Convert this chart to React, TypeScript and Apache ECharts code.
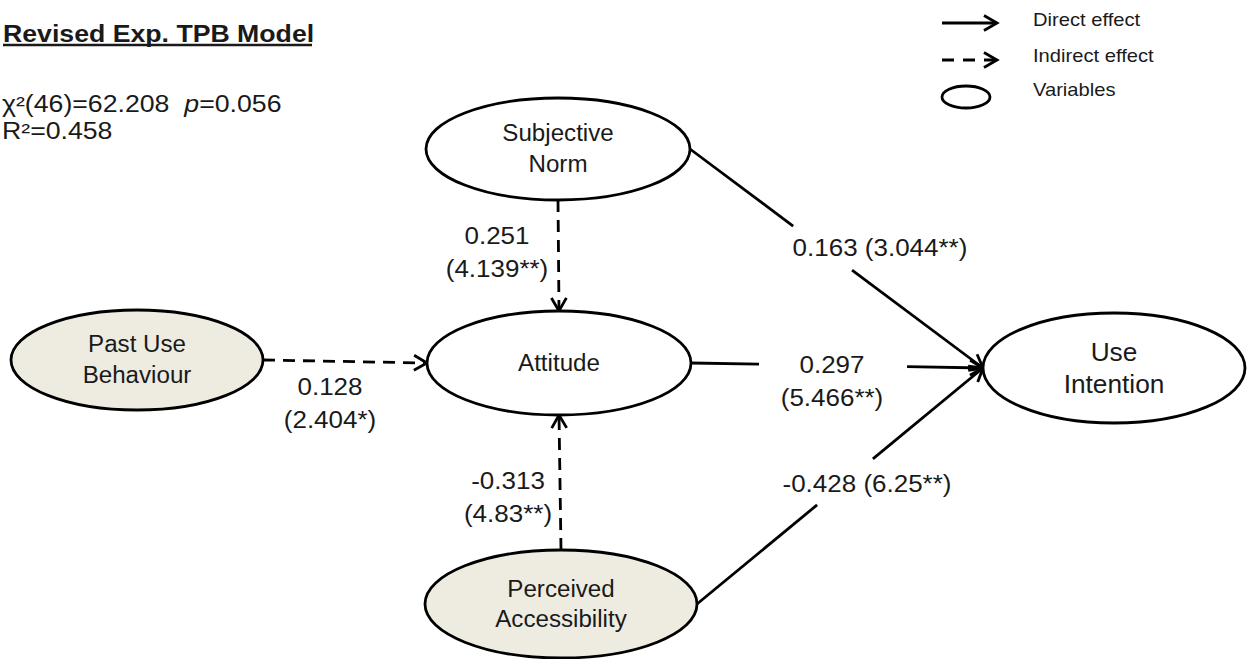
import React, { useEffect, useRef } from "react";
import * as echarts from "echarts";

// ---------- data ----------
const nodeNames = ["Subjective Norm", "Past Use Behaviour", "Attitude", "Perceived Accessibility", "Use Intention"];
const nodeLabels = ["Subjective\nNorm", "Past Use\nBehaviour", "Attitude", "Perceived\nAccessibility", "Use\nIntention"];
const nodeObserved = [false, true, false, true, false];

const edgeSource = [0, 1, 3, 0, 2, 3];
const edgeTarget = [2, 2, 2, 4, 4, 4];
const edgeEstimate = ["0.251", "0.128", "-0.313", "0.163", "0.297", "-0.428"];
const edgeTValue = ["4.139**", "2.404*", "4.83**", "3.044**", "5.466**", "6.25**"];
const edgeKind = ["indirect", "indirect", "indirect", "direct", "direct", "direct"];

const modelTitle = "Revised Exp. TPB Model";
const chiLabel = "χ²(46)";
const chiValue = "62.208";
const pValue = "0.056";
const r2Label = "R²";
const r2Value = "0.458";

const legendLabels = ["Direct effect", "Indirect effect", "Variables"];

// ---------- layout (diagram space, 1 unit = 1 px) ----------
const nodeCenter = [[558, 149], [137, 360], [559, 363], [561, 604], [1114, 368]];
const nodeRadius = [[132, 51], [126, 50], [132, 52], [136, 54], [131, 55]];
const nodeFontSize = [23, 23, 23, 23, 25];
const nodeLineHeight = [31, 31, 31, 30, 32];
const edgeFromSide = ["bottom", "right", "top", "right", "right", "right"];
const edgeToSide = ["top", "left", "bottom", "left", "left", "left"];
const edgeGap: (number[] | null)[] = [null, null, null, [0.352, 0.553], [0.233, 0.74], [0.42, 0.615]];
const edgeLabelPos = [[497, 253], [330, 404], [508, 498], [880, 248], [832, 382], [867, 484]];
const edgeLabelOneLine = [false, false, false, true, false, true];

const FONT = "'Liberation Sans', Arial, Helvetica, sans-serif";
const SX_EDGE = 1.13;
const SX_NODE = 1.05;
const SX_HEAD = 1.16;
const SX_LEG = 1.12;
const INK = "#000";
const TXT = "#1a1a1a";
const FILL_OBS = "#EEECE1";
const LW = 2.8;

function anchor(api: any, n: number, side: string) {
  const c = api.coord(nodeCenter[n]);
  const r = api.size(nodeRadius[n]);
  if (side === "left") return [c[0] - r[0], c[1]];
  if (side === "right") return [c[0] + r[0], c[1]];
  if (side === "top") return [c[0], c[1] - r[1]];
  return [c[0], c[1] + r[1]];
}

function chevron(tip: number[], ux: number, uy: number) {
  const L = 13, W = 7.5;
  const bx = tip[0] - ux * L, by = tip[1] - uy * L;
  return [[bx - uy * W, by + ux * W], [tip[0], tip[1]], [bx + uy * W, by - ux * W]];
}

export default function App() {
  const ref = useRef<HTMLDivElement>(null);
  useEffect(() => {
    if (!ref.current) return;
    const chart = echarts.init(ref.current, null, { renderer: "svg" });

    const lineStyle = (dashed: boolean) => ({
      stroke: INK,
      lineWidth: LW,
      fill: "none",
      lineDash: dashed ? [12, 8] : undefined,
    });

    const option: any = {
      animation: false,
      backgroundColor: "#fff",
      grid: { left: 0, right: 0, top: 0, bottom: 0 },
      xAxis: { type: "value", min: 0, max: 1250, show: false },
      yAxis: { type: "value", min: 0, max: 659, inverse: true, show: false },
      graphic: [
        {
          type: "text",
          x: 3,
          y: 34,
          scaleX: SX_HEAD,
          style: { text: modelTitle, fontSize: 23, fontWeight: "bold", fontFamily: FONT, fill: TXT, align: "left", verticalAlign: "middle" },
        },
        { type: "line", shape: { x1: 3, y1: 45, x2: 312, y2: 45 }, style: { stroke: TXT, lineWidth: 2.5 } },
        {
          type: "text",
          x: 2,
          y: 104,
          scaleX: SX_HEAD,
          style: {
            text: `${chiLabel}=${chiValue}  {i|p}=${pValue}`,
            rich: { i: { fontStyle: "italic", fontSize: 23, fontFamily: FONT, fill: TXT } },
            fontSize: 23,
            fontFamily: FONT,
            fill: TXT,
            align: "left",
            verticalAlign: "middle",
          },
        },
        {
          type: "text",
          x: 2,
          y: 131,
          scaleX: SX_HEAD,
          style: { text: `${r2Label}=${r2Value}`, fontSize: 23, fontFamily: FONT, fill: TXT, align: "left", verticalAlign: "middle" },
        },
        // legend
        { type: "line", shape: { x1: 942, y1: 23, x2: 997, y2: 23 }, style: { stroke: INK, lineWidth: LW } },
        { type: "polyline", shape: { points: chevron([997, 23], 1, 0) }, style: { stroke: INK, lineWidth: LW, fill: "none" } },
        { type: "line", shape: { x1: 942, y1: 60, x2: 996, y2: 60 }, style: { stroke: INK, lineWidth: LW, lineDash: [12, 9] } },
        { type: "polyline", shape: { points: chevron([997, 60], 1, 0) }, style: { stroke: INK, lineWidth: LW, fill: "none" } },
        { type: "ellipse", shape: { cx: 966, cy: 97, rx: 24, ry: 11 }, style: { stroke: INK, lineWidth: LW, fill: "none" } },
        ...legendLabels.map((t, i) => ({
          type: "text",
          x: 1033,
          y: [20, 56, 90][i],
          scaleX: SX_LEG,
          style: { text: t, fontSize: 18, fontFamily: FONT, fill: TXT, align: "left", verticalAlign: "middle" },
        })),
      ],
      series: [
        {
          type: "custom",
          name: "paths",
          silent: true,
          coordinateSystem: "cartesian2d",
          data: edgeSource.map((s, i) => ({ name: `${nodeNames[s]} → ${nodeNames[edgeTarget[i]]}`, value: [i, 0] })),
          renderItem: (params: any, api: any) => {
            const i = api.value(0);
            const a = anchor(api, edgeSource[i], edgeFromSide[i]);
            const b = anchor(api, edgeTarget[i], edgeToSide[i]);
            const dashed = edgeKind[i] === "indirect";
            const children: any[] = [];
            const lerp = (t: number) => [a[0] + (b[0] - a[0]) * t, a[1] + (b[1] - a[1]) * t];
            const gap = edgeGap[i];
            if (gap) {
              const p = lerp(gap[0]);
              const q = lerp(gap[1]);
              children.push({ type: "line", shape: { x1: a[0], y1: a[1], x2: p[0], y2: p[1] }, style: lineStyle(dashed) });
              children.push({ type: "line", shape: { x1: q[0], y1: q[1], x2: b[0], y2: b[1] }, style: lineStyle(dashed) });
            } else {
              children.push({ type: "line", shape: { x1: a[0], y1: a[1], x2: b[0], y2: b[1] }, style: lineStyle(dashed) });
            }
            const dx = b[0] - a[0], dy = b[1] - a[1];
            const len = Math.hypot(dx, dy);
            children.push({
              type: "polyline",
              shape: { points: chevron(b, dx / len, dy / len) },
              style: { stroke: INK, lineWidth: LW, fill: "none" },
            });
            const lp = api.coord(edgeLabelPos[i]);
            const text = edgeLabelOneLine[i] ? `${edgeEstimate[i]} (${edgeTValue[i]})` : `${edgeEstimate[i]}\n(${edgeTValue[i]})`;
            children.push({
              type: "text",
              x: lp[0],
              y: lp[1],
              scaleX: SX_EDGE,
              style: { text, fontSize: 23, lineHeight: 33, fontFamily: FONT, fill: TXT, align: "center", verticalAlign: "middle" },
            });
            return { type: "group", children };
          },
          z: 1,
        },
        {
          type: "custom",
          name: "variables",
          silent: true,
          coordinateSystem: "cartesian2d",
          data: nodeNames.map((n, i) => ({ name: n, value: [nodeCenter[i][0], nodeCenter[i][1], i] })),
          renderItem: (params: any, api: any) => {
            const i = api.value(2);
            const c = api.coord([api.value(0), api.value(1)]);
            const r = api.size(nodeRadius[i]);
            return {
              type: "group",
              children: [
                {
                  type: "ellipse",
                  shape: { cx: c[0], cy: c[1], rx: r[0], ry: r[1] },
                  style: { fill: nodeObserved[i] ? FILL_OBS : "#fff", stroke: INK, lineWidth: LW },
                },
                {
                  type: "text",
                  x: c[0],
                  y: c[1],
                  scaleX: SX_NODE,
                  style: {
                    text: nodeLabels[i],
                    fontSize: nodeFontSize[i],
                    lineHeight: nodeLineHeight[i],
                    fontFamily: FONT,
                    fill: TXT,
                    align: "center",
                    verticalAlign: "middle",
                  },
                },
              ],
            };
          },
          z: 2,
        },
      ],
    };
    chart.setOption(option);
    return () => chart.dispose();
  }, []);
  return <div ref={ref} style={{ position: "absolute", left: 0, top: 0, width: 1250, height: 659 }} />;
}
